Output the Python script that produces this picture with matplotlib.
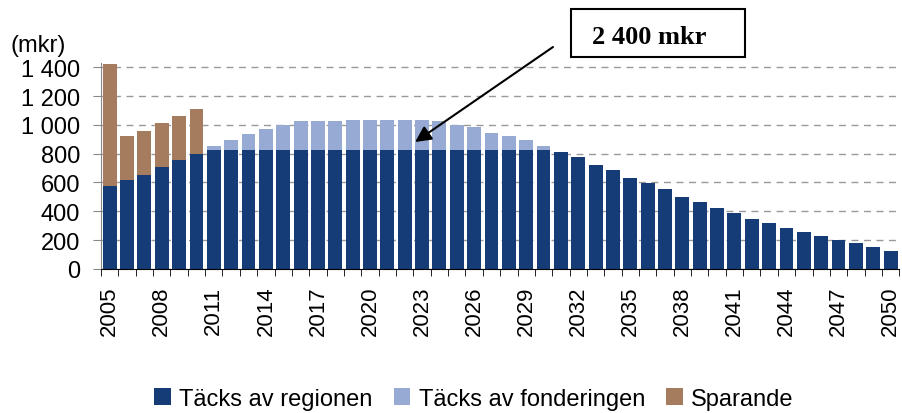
import matplotlib
matplotlib.use("Agg")
import matplotlib.pyplot as plt
from matplotlib.patches import Rectangle
from matplotlib.ticker import FixedLocator

# data (mkr per year)
years = list(range(2005, 2051))
regionen = [576, 618, 652, 708, 756, 798,
            826, 826, 826, 826, 826, 826, 826, 826, 826, 826,
            826, 826, 826, 826, 826, 826, 826, 826, 826, 826,
            812, 777, 722, 687, 631, 597, 555, 500, 465, 423,
            389, 347, 319, 285, 257, 229, 201, 180, 153, 125]
fonderingen = [0, 0, 0, 0, 0, 0,
               28, 69, 111, 145, 174, 201, 201, 201, 208, 208,
               208, 208, 208, 201, 173, 159, 118, 97, 69, 28,
               0, 0, 0, 0, 0, 0, 0, 0, 0, 0,
               0, 0, 0, 0, 0, 0, 0, 0, 0, 0]
sparande = [844, 305, 306, 305, 306, 312,
            0, 0, 0, 0, 0, 0, 0, 0, 0, 0,
            0, 0, 0, 0, 0, 0, 0, 0, 0, 0,
            0, 0, 0, 0, 0, 0, 0, 0, 0, 0,
            0, 0, 0, 0, 0, 0, 0, 0, 0, 0]
yticks = [0, 200, 400, 600, 800, 1000, 1200, 1400]
ytick_labels = ["0", "200", "400", "600", "800", "1 000", "1 200", "1 400"]

navy = "#163c78"
light = "#96aad3"
brown = "#a67c5f"

plt.rcParams["font.family"] = ["Liberation Sans", "DejaVu Sans"]

fig = plt.figure(figsize=(9.02, 4.14), dpi=100)
ax = fig.add_axes([0.112, 0.348, 0.885, 0.4976])

x = list(range(len(years)))
bottom2 = regionen
bottom3 = [a + b for a, b in zip(regionen, fonderingen)]
ax.bar(x, regionen, width=0.8, color=navy, label="Täcks av regionen", zorder=2)
ax.bar(x, fonderingen, width=0.8, bottom=bottom2, color=light,
       label="Täcks av fonderingen", zorder=2)
ax.bar(x, sparande, width=0.8, bottom=bottom3, color=brown,
       label="Sparande", zorder=2)

ax.set_xlim(-0.5, len(years) - 0.5)
ax.set_ylim(0, 1430)

ax.set_yticks(yticks)
ax.set_yticklabels(ytick_labels, fontsize=17)
ax.yaxis.grid(True, linestyle=(0, (5, 4)), color="#999999", lw=1, zorder=0)
ax.tick_params(axis="y", direction="out", length=6, color="#888888", pad=9)

ax.set_xticks(x[::3])
ax.set_xticklabels([str(y) for y in years[::3]], rotation=90, fontsize=16)
ax.xaxis.set_minor_locator(FixedLocator([i - 0.5 for i in range(len(years) + 1)]))
ax.tick_params(axis="x", which="major", length=0, pad=12)
ax.tick_params(axis="x", which="minor", length=5, color="black")

for s in ["top", "right"]:
    ax.spines[s].set_visible(False)
ax.spines["left"].set_color("#888888")
ax.spines["bottom"].set_color("black")

fig.text(10 / 902, 1 - 46 / 414, "(mkr)", fontsize=17, va="center", ha="left")

# annotation box and arrow
fig.patches.append(Rectangle((571 / 902, 1 - 58 / 414), 174 / 902, 48 / 414,
                             transform=fig.transFigure, fill=False,
                             edgecolor="black", lw=1.5))
fig.text(649 / 902, 1 - 37 / 414, "2 400 mkr", fontsize=19, fontweight="bold",
         family="Liberation Serif", ha="center", va="center")
ax.annotate("", xy=(17.6, 881), xycoords="data",
            xytext=(553 / 902, 1 - 48 / 414), textcoords="figure fraction",
            arrowprops=dict(arrowstyle="-|>", mutation_scale=24, lw=1.5,
                            color="black", shrinkA=0, shrinkB=0))

fig.legend(loc="center", bbox_to_anchor=(474 / 902, 1 - 400 / 414), ncol=3,
           frameon=False, fontsize=17, handlelength=0.7, handleheight=0.7,
           handletextpad=0.35, columnspacing=0.9)

fig.savefig("out.png", dpi=100)
